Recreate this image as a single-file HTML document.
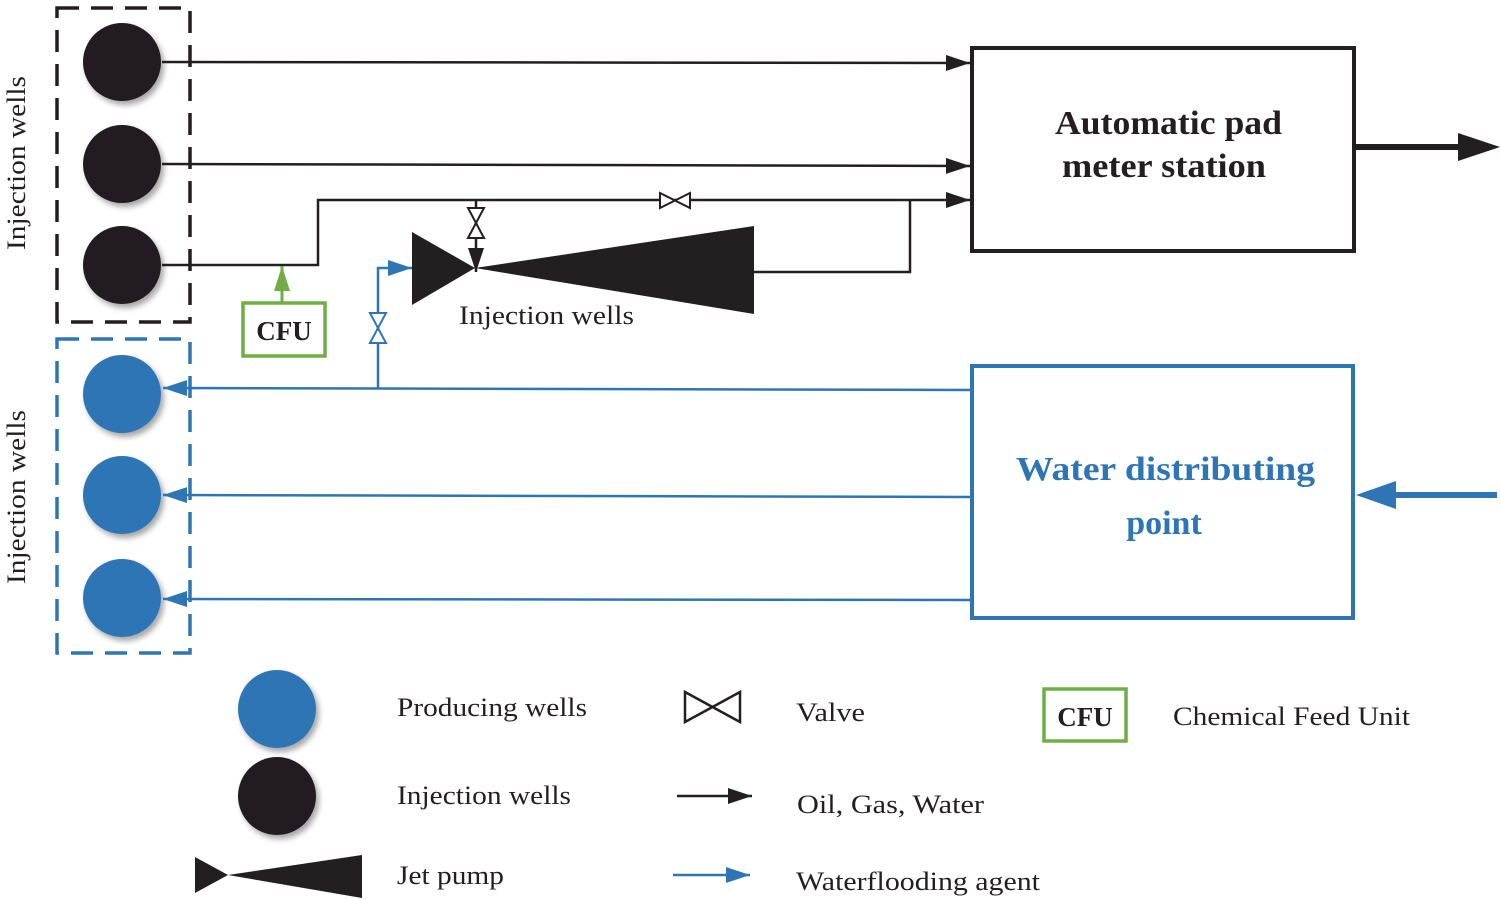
<!DOCTYPE html>
<html><head><meta charset="utf-8"><style>
html,body{margin:0;padding:0;background:#fff;}
svg{display:block;font-family:"Liberation Serif",serif;}
</style></head><body>
<svg width="1500" height="899" viewBox="0 0 1500 899" xmlns="http://www.w3.org/2000/svg">
<defs>
<marker id="abk" viewBox="0 0 24 16" markerWidth="24" markerHeight="16" refX="24" refY="8" orient="auto" markerUnits="userSpaceOnUse"><path d="M0,0 L24,8 L0,16Z" fill="#231f20"/></marker>
<marker id="abl" viewBox="0 0 24 16" markerWidth="24" markerHeight="16" refX="24" refY="8" orient="auto" markerUnits="userSpaceOnUse"><path d="M0,0 L24,8 L0,16Z" fill="#2e75b6"/></marker>
<filter id="sh"><feDropShadow dx="3" dy="4" stdDeviation="3" flood-color="#000" flood-opacity="0.35"/></filter>
</defs>
<rect x="57" y="8" width="133" height="314" fill="none" stroke="#231f20" stroke-width="3.5" stroke-dasharray="22,12"/>
<rect x="57" y="339" width="133" height="314" fill="none" stroke="#2e75b6" stroke-width="3.5" stroke-dasharray="22,12"/>
<text transform="translate(25,163) rotate(-90)" font-size="26" text-anchor="middle" fill="#231f20" textLength="174" lengthAdjust="spacingAndGlyphs">Injection wells</text>
<text transform="translate(25,497) rotate(-90)" font-size="26" text-anchor="middle" fill="#231f20" textLength="174" lengthAdjust="spacingAndGlyphs">Injection wells</text>
<g filter="url(#sh)">
<circle cx="122" cy="62" r="39" fill="#231f20"/>
<circle cx="122" cy="164" r="39" fill="#231f20"/>
<circle cx="122" cy="265" r="39" fill="#231f20"/>
<circle cx="122" cy="394" r="39" fill="#2e75b6"/>
<circle cx="122" cy="495" r="39" fill="#2e75b6"/>
<circle cx="122" cy="598" r="39" fill="#2e75b6"/>
<circle cx="277" cy="709" r="39" fill="#2e75b6"/>
<circle cx="277" cy="796" r="39" fill="#231f20"/>
</g>
<g stroke="#231f20" stroke-width="2.5" fill="none">
<line x1="162" y1="62" x2="970" y2="63" marker-end="url(#abk)"/>
<line x1="162" y1="164" x2="970" y2="166" marker-end="url(#abk)"/>
<polyline points="162,265 318,265 318,200 970,200" marker-end="url(#abk)"/>
<polyline points="754,272 910,272 910,200"/>
<line x1="476" y1="200" x2="476" y2="272" marker-end="url(#abk)"/>
</g>
<path d="M660,193 L660,208 L690,193 L690,208Z" fill="#fff" stroke="#231f20" stroke-width="2"/>
<path d="M468,208 L484,208 L468,238 L484,238Z" fill="#fff" stroke="#231f20" stroke-width="2"/>
<path d="M412,232 L475,268 L412,305Z M475,268 L754,226 L754,314Z" fill="#231f20"/>
<text x="459" y="324" font-size="26" fill="#231f20" textLength="175" lengthAdjust="spacingAndGlyphs">Injection wells</text>
<rect x="243" y="303" width="82" height="53" fill="#fff" stroke="#70ad47" stroke-width="3.5"/>
<text x="284" y="340" font-size="27" font-weight="bold" text-anchor="middle" fill="#231f20">CFU</text>
<line x1="282" y1="302" x2="282" y2="266" stroke="#70ad47" stroke-width="3"/>
<path d="M274,291 L282,266 L290,291Z" fill="#70ad47"/>
<rect x="972" y="48" width="382" height="203" fill="none" stroke="#231f20" stroke-width="4"/>
<text x="1055" y="134" font-size="34" font-weight="bold" fill="#231f20" textLength="227" lengthAdjust="spacingAndGlyphs">Automatic pad</text>
<text x="1062" y="177" font-size="34" font-weight="bold" fill="#231f20" textLength="204" lengthAdjust="spacingAndGlyphs">meter station</text>
<line x1="1354" y1="147" x2="1465" y2="147" stroke="#231f20" stroke-width="6"/>
<path d="M1458,133 L1500,147 L1458,161Z" fill="#231f20"/>
<g stroke="#2e75b6" stroke-width="2.5" fill="none">
<line x1="970" y1="390" x2="163" y2="388" marker-end="url(#abl)"/>
<line x1="970" y1="497" x2="163" y2="495" marker-end="url(#abl)"/>
<line x1="970" y1="600" x2="163" y2="599" marker-end="url(#abl)"/>
<polyline points="378,388 378,268 412,268" marker-end="url(#abl)"/>
</g>
<path d="M370,313 L386,313 L370,343 L386,343Z" fill="#fff" stroke="#2e75b6" stroke-width="2"/>
<rect x="972" y="366" width="381" height="252" fill="none" stroke="#2e75b6" stroke-width="4"/>
<text x="1016" y="480" font-size="34" font-weight="bold" fill="#2e75b6" textLength="299" lengthAdjust="spacingAndGlyphs">Water distributing</text>
<text x="1164" y="534" font-size="34" font-weight="bold" text-anchor="middle" fill="#2e75b6">point</text>
<line x1="1497" y1="495" x2="1390" y2="495" stroke="#2e75b6" stroke-width="6"/>
<path d="M1396,481 L1356,495 L1396,509Z" fill="#2e75b6"/>
<path d="M195,857 L228,875 L195,893Z M228,875 L362,855 L362,898Z" fill="#231f20"/>
<g font-size="26" fill="#231f20" lengthAdjust="spacingAndGlyphs">
<text x="397" y="716" textLength="190" lengthAdjust="spacingAndGlyphs">Producing wells</text>
<text x="397" y="804" textLength="174" lengthAdjust="spacingAndGlyphs">Injection wells</text>
<text x="397" y="884" textLength="107" lengthAdjust="spacingAndGlyphs">Jet pump</text>
<text x="796" y="721" textLength="69" lengthAdjust="spacingAndGlyphs">Valve</text>
<text x="797" y="813" textLength="187" lengthAdjust="spacingAndGlyphs">Oil, Gas, Water</text>
<text x="796" y="890" textLength="244" lengthAdjust="spacingAndGlyphs">Waterflooding agent</text>
<text x="1173" y="725" textLength="237" lengthAdjust="spacingAndGlyphs">Chemical Feed Unit</text>
</g>
<path d="M685,692 L685,722 L740,692 L740,722Z" fill="#fff" stroke="#231f20" stroke-width="2.5"/>
<line x1="677" y1="796" x2="752" y2="796" stroke="#231f20" stroke-width="2.5" marker-end="url(#abk)"/>
<line x1="673" y1="875" x2="750" y2="875" stroke="#2e75b6" stroke-width="2.5" marker-end="url(#abl)"/>
<rect x="1044" y="689" width="82" height="52" fill="#fff" stroke="#70ad47" stroke-width="3.5"/>
<text x="1085" y="726" font-size="27" font-weight="bold" text-anchor="middle" fill="#231f20">CFU</text>
</svg>
</body></html>
